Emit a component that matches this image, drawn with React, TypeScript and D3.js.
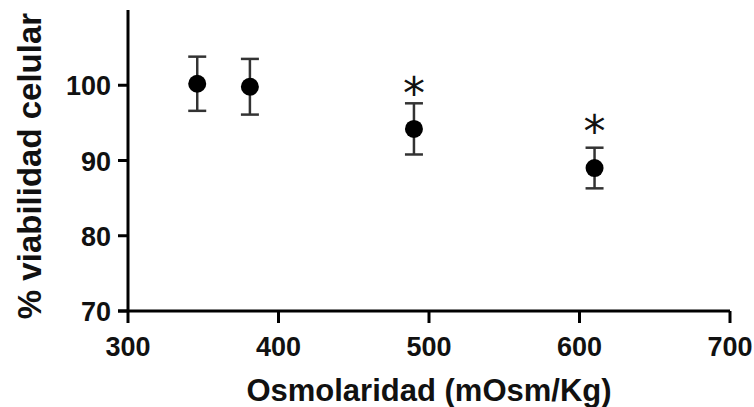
import { scaleLinear } from "d3";

const width = 754;
const height = 407;
const MARGIN = { top: 10, right: 24, bottom: 96, left: 128 };
const boundsWidth = width - MARGIN.left - MARGIN.right;
const boundsHeight = height - MARGIN.top - MARGIN.bottom;

// values
const osmolarity = [346, 381, 490, 610];
const viability = [100.2, 99.8, 94.2, 89.0];
const sem = [3.6, 3.7, 3.4, 2.7];
// level of the significance asterisk (null = none)
const starLevel = [null, null, 99.8, 94.7];

const xTicks = [300, 400, 500, 600, 700];
const yTicks = [70, 80, 90, 100];

const FONT = "'Liberation Sans', Arial, sans-serif";

export default function App() {
  const xScale = scaleLinear().domain([300, 700]).range([0, boundsWidth]);
  const yScale = scaleLinear().domain([70, 110]).range([boundsHeight, 0]);

  const capHalf = 9;

  return (
    <svg
      width={width}
      height={height}
      viewBox={`0 0 ${width} ${height}`}
      style={{ position: "absolute", left: 0, top: 0, background: "#fff" }}
      fontFamily={FONT}
    >
      <g transform={`translate(${MARGIN.left},${MARGIN.top})`}>
        {/* axes */}
        <line x1={0} x2={0} y1={0} y2={boundsHeight} stroke="#000" strokeWidth={3} />
        <line x1={-10} x2={boundsWidth} y1={boundsHeight} y2={boundsHeight} stroke="#000" strokeWidth={3} />

        {yTicks.map((v) => (
          <g key={v}>
            <line x1={-10} x2={0} y1={yScale(v)} y2={yScale(v)} stroke="#000" strokeWidth={3} />
            <text
              x={-17}
              y={yScale(v)}
              dy={10}
              textAnchor="end"
              fontSize={27}
              fontWeight="bold"
              fill="#111"
            >
              {v}
            </text>
          </g>
        ))}

        {xTicks.map((v) => (
          <g key={v}>
            <line x1={xScale(v)} x2={xScale(v)} y1={boundsHeight} y2={boundsHeight + 12} stroke="#000" strokeWidth={3} />
            <text
              x={xScale(v)}
              y={boundsHeight + 45}
              textAnchor="middle"
              fontSize={27}
              fontWeight="bold"
              fill="#111"
            >
              {v}
            </text>
          </g>
        ))}

        {/* error bars */}
        {osmolarity.map((x, i) => {
          const cx = xScale(x);
          const top = yScale(viability[i] + sem[i]);
          const bot = yScale(viability[i] - sem[i]);
          return (
            <g key={i} stroke="#333" strokeWidth={2.5}>
              <line x1={cx} x2={cx} y1={top} y2={bot} />
              <line x1={cx - capHalf} x2={cx + capHalf} y1={top} y2={top} />
              <line x1={cx - capHalf} x2={cx + capHalf} y1={bot} y2={bot} />
            </g>
          );
        })}

        {/* points */}
        {osmolarity.map((x, i) => (
          <circle key={i} cx={xScale(x)} cy={yScale(viability[i])} r={9} fill="#000" />
        ))}

        {/* significance marks */}
        {osmolarity.map((x, i) => {
          const s = starLevel[i];
          if (s == null) return null;
          return (
            <text
              key={i}
              x={xScale(x)}
              y={yScale(s)}
              dy={22}
              textAnchor="middle"
              fontSize={44}
              fontFamily="'DejaVu Sans', sans-serif"
              fill="#111"
            >
              *
            </text>
          );
        })}
      </g>

      <text
        x={MARGIN.left + boundsWidth / 2}
        y={401}
        textAnchor="middle"
        fontSize={31}
        fontWeight="bold"
        fill="#111"
      >
        Osmolaridad (mOsm/Kg)
      </text>
      <text
        transform={`translate(41, 166) rotate(-90)`}
        textAnchor="middle"
        fontSize={33}
        fontWeight="bold"
        fill="#111"
      >
        % viabilidad celular
      </text>
    </svg>
  );
}
